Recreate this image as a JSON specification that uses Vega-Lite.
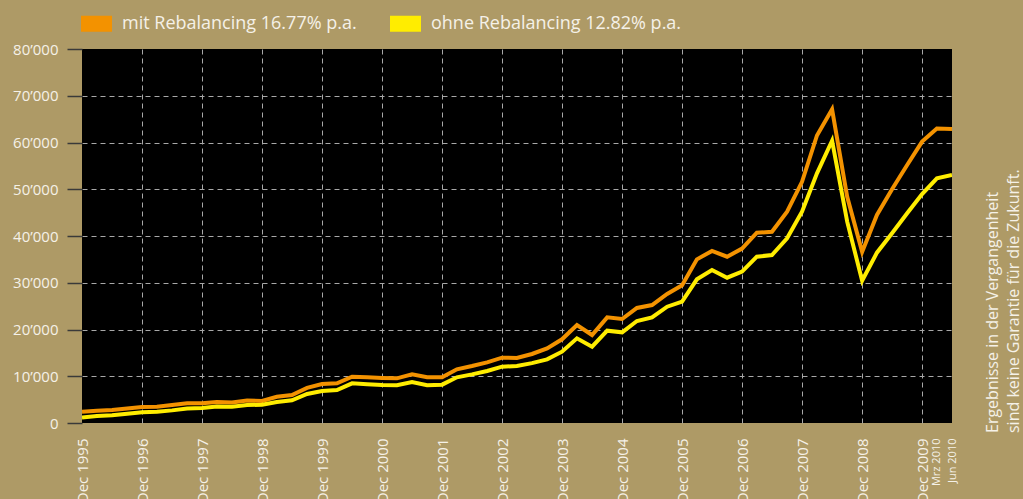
{
  "$schema": "https://vega.github.io/schema/vega-lite/v6.json",
  "width": 870,
  "height": 374,
  "autosize": {"type": "none"},
  "padding": {"left": 82, "top": 49, "right": 71, "bottom": 76},
  "background": "#ae9a66",
  "config": {
    "view": {"fill": "#000000", "stroke": null},
    "font": "Open Sans"
  },
  "title": {
    "text": ["Ergebnisse in der Vergangenheit", "sind keine Garantie für die Zukunft."],
    "orient": "right",
    "frame": "group",
    "angle": -90,
    "anchor": "end",
    "align": "left",
    "baseline": "top",
    "dx": -10,
    "offset": -9,
    "fontSize": 16,
    "fontWeight": "normal",
    "font": "Open Sans",
    "color": "#f5f1e8",
    "lineHeight": 21
  },
  "data": {
    "values": [
      {"date": "1995-12-01", "mit": 2400, "ohne": 1200},
      {"date": "1996-03-01", "mit": 2600, "ohne": 1500},
      {"date": "1996-06-01", "mit": 2800, "ohne": 1650},
      {"date": "1996-09-01", "mit": 3100, "ohne": 2000},
      {"date": "1996-12-01", "mit": 3400, "ohne": 2300},
      {"date": "1997-03-01", "mit": 3500, "ohne": 2400},
      {"date": "1997-06-01", "mit": 3850, "ohne": 2700},
      {"date": "1997-09-01", "mit": 4200, "ohne": 3100},
      {"date": "1997-12-01", "mit": 4200, "ohne": 3200},
      {"date": "1998-03-01", "mit": 4500, "ohne": 3550},
      {"date": "1998-06-01", "mit": 4400, "ohne": 3500},
      {"date": "1998-09-01", "mit": 4800, "ohne": 3850},
      {"date": "1998-12-01", "mit": 4700, "ohne": 3900},
      {"date": "1999-03-01", "mit": 5600, "ohne": 4500},
      {"date": "1999-06-01", "mit": 6000, "ohne": 4850},
      {"date": "1999-09-01", "mit": 7500, "ohne": 6200},
      {"date": "1999-12-01", "mit": 8340, "ohne": 6840},
      {"date": "2000-03-01", "mit": 8490, "ohne": 7060},
      {"date": "2000-06-01", "mit": 9910, "ohne": 8490},
      {"date": "2000-09-01", "mit": 9770, "ohne": 8280},
      {"date": "2000-12-01", "mit": 9630, "ohne": 8130},
      {"date": "2001-03-01", "mit": 9550, "ohne": 8060},
      {"date": "2001-06-01", "mit": 10400, "ohne": 8770},
      {"date": "2001-09-01", "mit": 9770, "ohne": 8060},
      {"date": "2001-12-01", "mit": 9770, "ohne": 8200},
      {"date": "2002-03-01", "mit": 11480, "ohne": 9770},
      {"date": "2002-06-01", "mit": 12190, "ohne": 10400},
      {"date": "2002-09-01", "mit": 12980, "ohne": 11120},
      {"date": "2002-12-01", "mit": 13970, "ohne": 12050},
      {"date": "2003-03-01", "mit": 13900, "ohne": 12200},
      {"date": "2003-06-01", "mit": 14760, "ohne": 12800},
      {"date": "2003-09-01", "mit": 15970, "ohne": 13620},
      {"date": "2003-12-01", "mit": 17900, "ohne": 15250},
      {"date": "2004-03-01", "mit": 20960, "ohne": 18110},
      {"date": "2004-06-01", "mit": 18820, "ohne": 16320},
      {"date": "2004-09-01", "mit": 22600, "ohne": 19750},
      {"date": "2004-12-01", "mit": 22250, "ohne": 19400},
      {"date": "2005-03-01", "mit": 24600, "ohne": 21820},
      {"date": "2005-06-01", "mit": 25240, "ohne": 22600},
      {"date": "2005-09-01", "mit": 27600, "ohne": 24880},
      {"date": "2005-12-01", "mit": 29450, "ohne": 25950},
      {"date": "2006-03-01", "mit": 35000, "ohne": 30740},
      {"date": "2006-06-01", "mit": 36800, "ohne": 32730},
      {"date": "2006-09-01", "mit": 35570, "ohne": 31080},
      {"date": "2006-12-01", "mit": 37300, "ohne": 32370},
      {"date": "2007-03-01", "mit": 40700, "ohne": 35570},
      {"date": "2007-06-01", "mit": 40900, "ohne": 35940},
      {"date": "2007-09-01", "mit": 45200, "ohne": 39500},
      {"date": "2007-12-01", "mit": 51600, "ohne": 45200},
      {"date": "2008-03-01", "mit": 61500, "ohne": 53400},
      {"date": "2008-06-01", "mit": 67100, "ohne": 60390},
      {"date": "2008-09-01", "mit": 48400, "ohne": 43060},
      {"date": "2008-12-01", "mit": 36600, "ohne": 30440},
      {"date": "2009-03-01", "mit": 44500, "ohne": 36430},
      {"date": "2009-06-01", "mit": 50000, "ohne": 40570},
      {"date": "2009-09-01", "mit": 55200, "ohne": 44850},
      {"date": "2009-12-01", "mit": 60200, "ohne": 48980},
      {"date": "2010-03-01", "mit": 63000, "ohne": 52340},
      {"date": "2010-06-01", "mit": 62900, "ohne": 53050}
    ]
  },
  "transform": [
    {"fold": ["mit", "ohne"], "as": ["series", "value"]}
  ],
  "mark": {"type": "line", "strokeWidth": 4, "strokeJoin": "miter", "clip": true},
  "encoding": {
    "x": {
      "field": "date",
      "type": "temporal",
      "scale": {
        "type": "utc",
        "nice": false,
        "domain": [
          {"year": 1995, "month": 12, "date": 1, "utc": true},
          {"year": 2010, "month": 6, "date": 1, "utc": true}
        ]
      },
      "axis": {
        "title": null,
        "domain": false,
        "ticks": false,
        "labelAngle": -90,
        "labelPadding": 15,
        "labelColor": "#f5f1e8",
        "labelFont": "Open Sans",
        "labelFontSize": {"condition": {"test": "utcmonth(datum.value) != 11", "value": 11}, "value": 15},
        "labelOverlap": false,
        "labelBound": false,
        "labelFlush": false,
        "labelExpr": "(utcmonth(datum.value) == 11 ? 'Dec ' : utcmonth(datum.value) == 2 ? 'Mrz ' : 'Jun ') + utcyear(datum.value)",
        "values": [
          {"year": 1995, "month": 12, "date": 1, "utc": true},
          {"year": 1996, "month": 12, "date": 1, "utc": true},
          {"year": 1997, "month": 12, "date": 1, "utc": true},
          {"year": 1998, "month": 12, "date": 1, "utc": true},
          {"year": 1999, "month": 12, "date": 1, "utc": true},
          {"year": 2000, "month": 12, "date": 1, "utc": true},
          {"year": 2001, "month": 12, "date": 1, "utc": true},
          {"year": 2002, "month": 12, "date": 1, "utc": true},
          {"year": 2003, "month": 12, "date": 1, "utc": true},
          {"year": 2004, "month": 12, "date": 1, "utc": true},
          {"year": 2005, "month": 12, "date": 1, "utc": true},
          {"year": 2006, "month": 12, "date": 1, "utc": true},
          {"year": 2007, "month": 12, "date": 1, "utc": true},
          {"year": 2008, "month": 12, "date": 1, "utc": true},
          {"year": 2009, "month": 12, "date": 1, "utc": true},
          {"year": 2010, "month": 3, "date": 1, "utc": true},
          {"year": 2010, "month": 6, "date": 1, "utc": true}
        ],
        "grid": true,
        "gridColor": "#a8a8a8",
        "gridDash": [5, 4],
        "gridWidth": 1,
        "gridOpacity": {"condition": {"test": "utcmonth(datum.value) != 11 || utcyear(datum.value) == 1995", "value": 0}, "value": 1}
      }
    },
    "y": {
      "field": "value",
      "type": "quantitative",
      "scale": {"domain": [0, 80000], "nice": false},
      "axis": {
        "title": null,
        "domain": false,
        "values": [0, 10000, 20000, 30000, 40000, 50000, 60000, 70000, 80000],
        "tickSize": 15,
        "tickColor": "#3a3a3a",
        "tickWidth": 1.5,
        "labelPadding": 9,
        "labelColor": "#f5f1e8",
        "labelFont": "Open Sans",
        "labelFontSize": 15,
        "labelExpr": "replace(format(datum.value, ','), ',', '’')",
        "grid": true,
        "gridColor": "#a8a8a8",
        "gridDash": [5, 4],
        "gridWidth": 1,
        "gridOpacity": {"condition": {"test": "datum.value == 0 || datum.value == 80000", "value": 0}, "value": 1}
      }
    },
    "color": {
      "field": "series",
      "type": "nominal",
      "scale": {"domain": ["mit", "ohne"], "range": ["#f39200", "#ffed00"]},
      "legend": {
        "title": null,
        "orient": "none",
        "direction": "horizontal",
        "legendX": -1,
        "legendY": -41,
        "symbolType": "M-1,-0.516H1V0.516H-1Z",
        "symbolSize": 961,
        "symbolStrokeWidth": 0,
        "labelFont": "Open Sans",
        "labelFontSize": 18,
        "labelColor": "#f5f1e8",
        "labelOffset": 10,
        "columnPadding": 33,
        "labelLimit": 400,
        "labelExpr": "datum.label == 'mit' ? 'mit Rebalancing 16.77% p.a.' : 'ohne Rebalancing 12.82% p.a.'",
        "encode": {
          "symbols": {
            "update": {
              "fill": {"scale": "color", "field": "value"},
              "stroke": {"value": "transparent"},
              "opacity": {"value": 1}
            }
          }
        }
      }
    }
  }
}
